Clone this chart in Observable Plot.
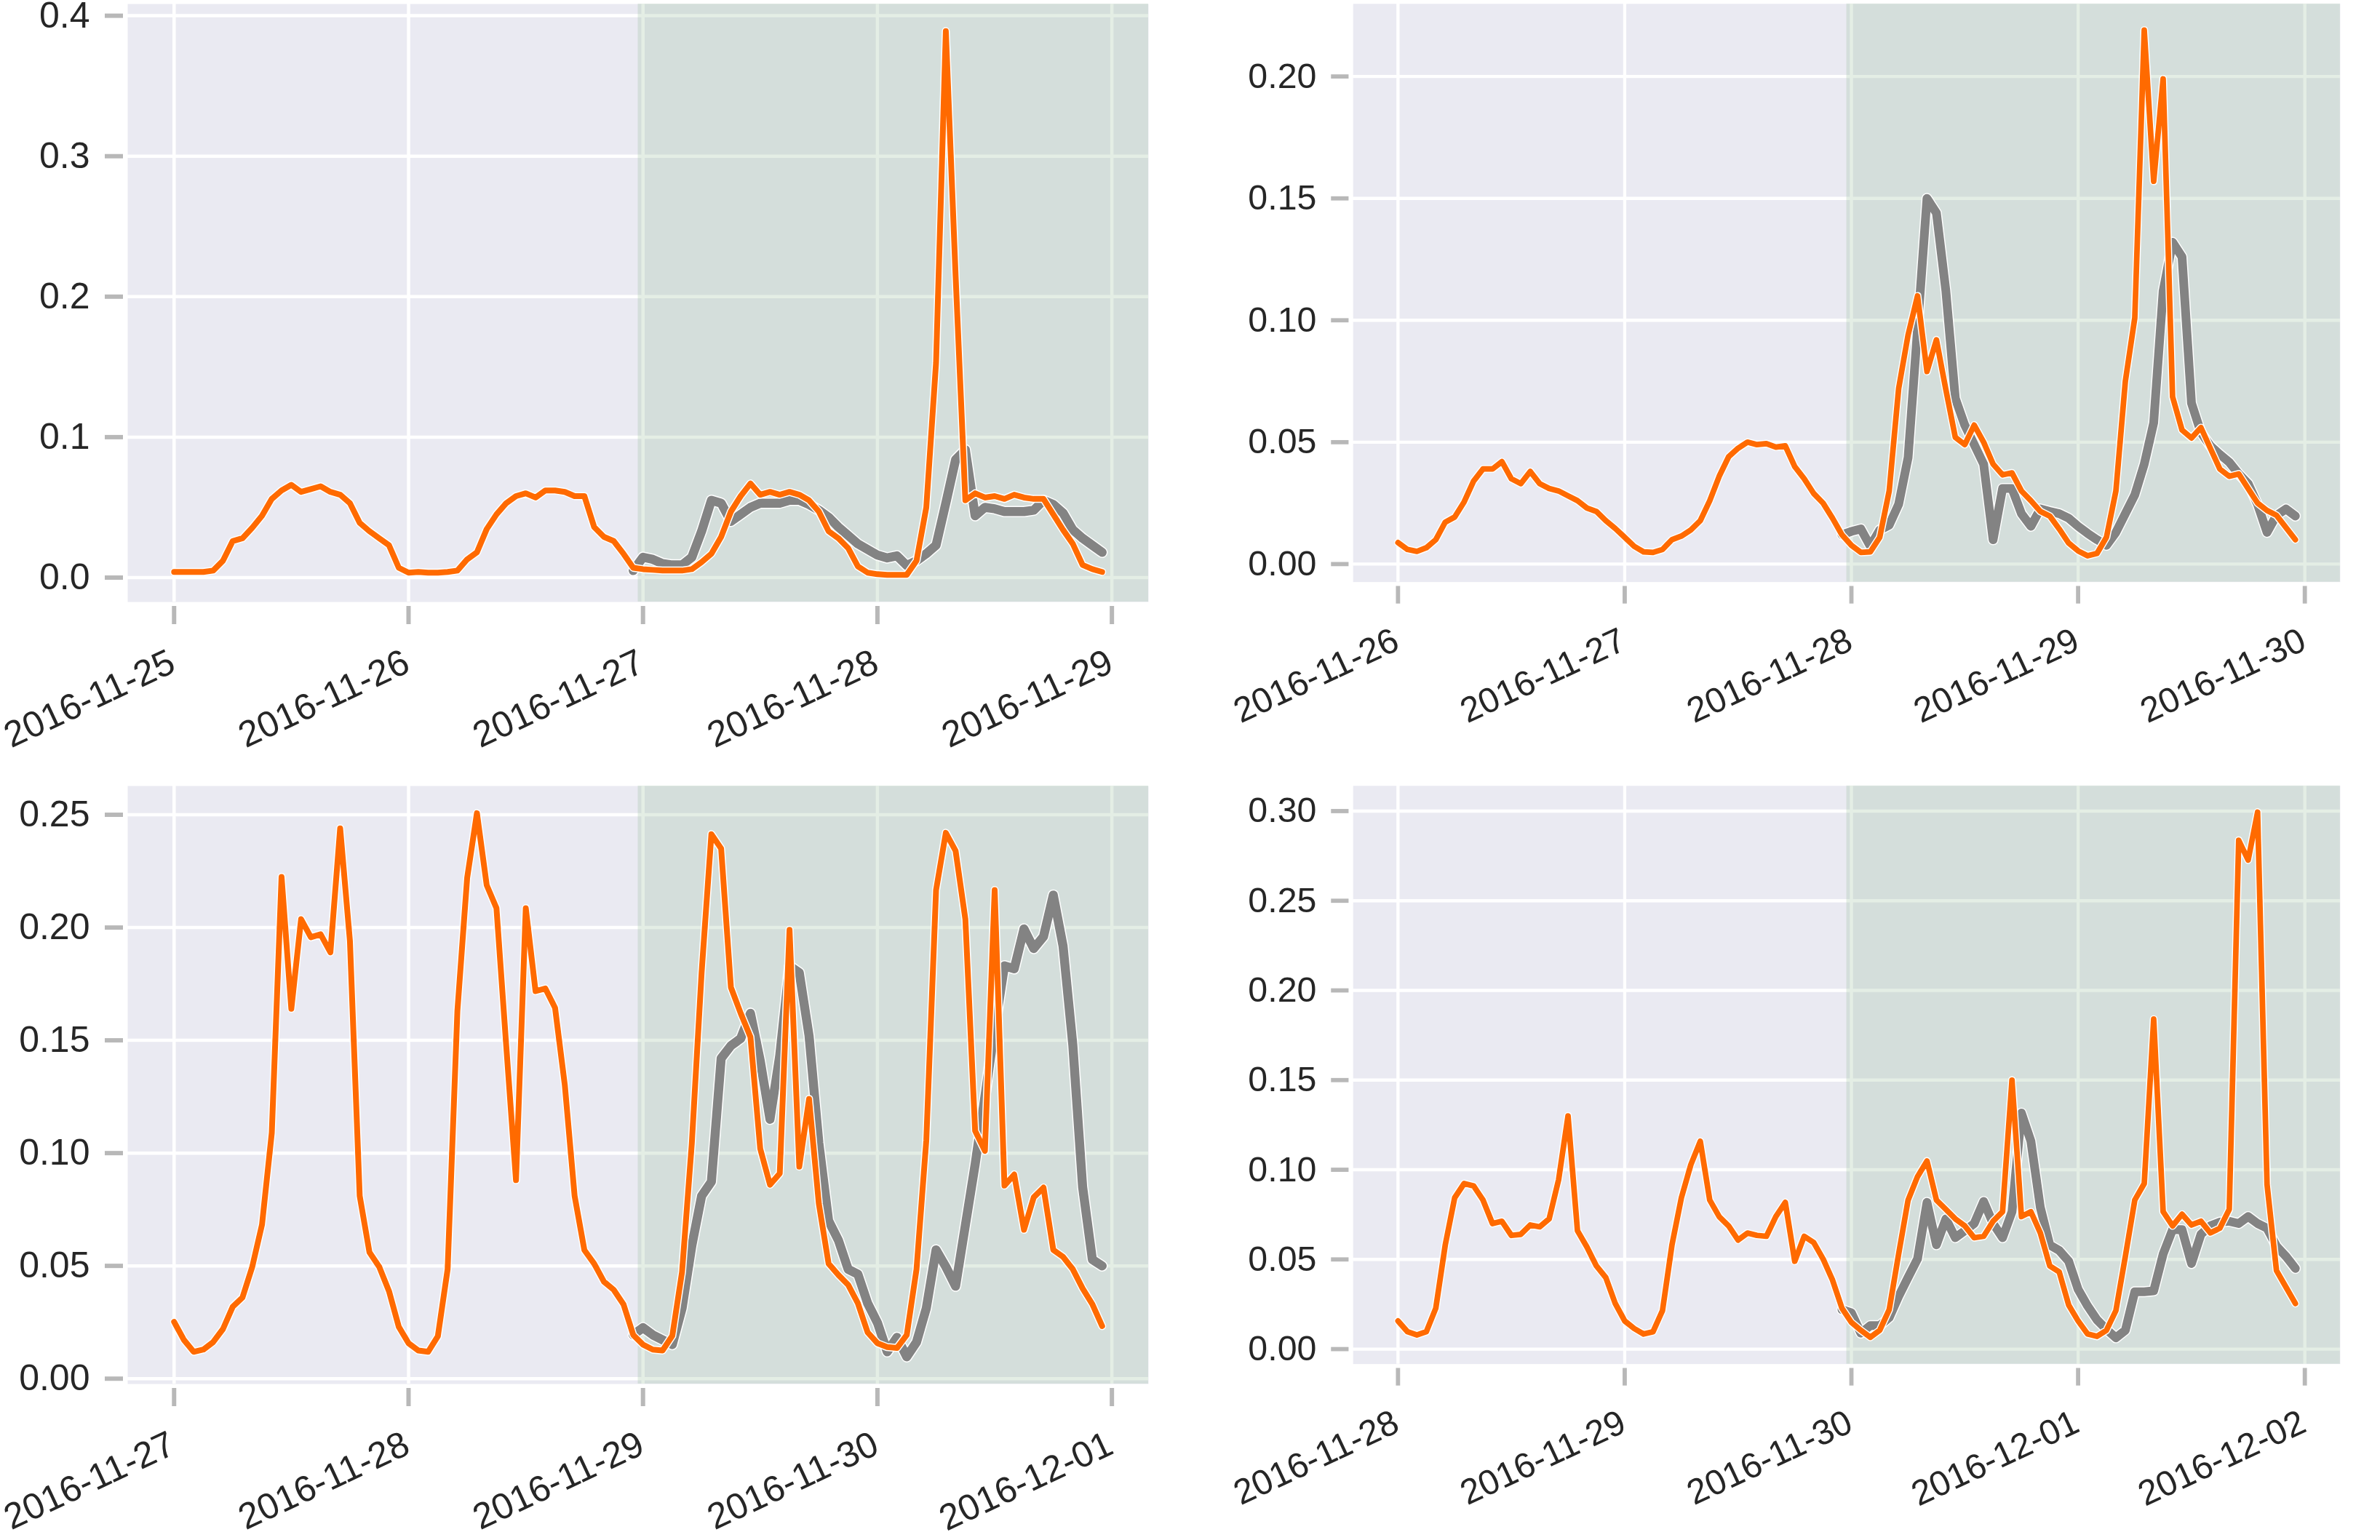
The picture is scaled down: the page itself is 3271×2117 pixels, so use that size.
<!DOCTYPE html>
<html><head><meta charset="utf-8">
<script src="https://cdn.jsdelivr.net/npm/d3@7"></script>
<script src="https://cdn.jsdelivr.net/npm/@observablehq/plot@0.6"></script>
<style>
html,body{margin:0;padding:0;background:#fff;}
#fig{position:relative;width:3271px;height:2117px;overflow:hidden;font-family:"Liberation Sans",Arial,sans-serif;}
.panel{position:absolute;}
.panel svg{overflow:visible;}
</style></head>
<body><div id="fig"></div>
<script>
// ---- data ----
const panelStarts = ["2016-11-25", "2016-11-26", "2016-11-27", "2016-11-28"];
const grayStartHour = 47;     // hour index where the grey (predicted) series starts
const shadeStartHour = 47.5;  // start of the shaded test window

const orange1 = [0.004,0.004,0.004,0.004,0.005,0.012,0.026,0.028,0.0355,0.044,0.056,0.062,0.066,0.061,0.063,0.065,0.061,0.059,0.053,0.039,0.033,0.028,0.023,0.007,
0.0035,0.004,0.0035,0.0035,0.004,0.005,0.013,0.018,0.0345,0.045,0.053,0.058,0.060,0.057,0.062,0.062,0.061,0.058,0.058,0.036,0.029,0.026,0.017,0.007,
0.006,0.0055,0.005,0.005,0.005,0.006,0.011,0.017,0.029,0.047,0.058,0.067,0.059,0.061,0.059,0.061,0.059,0.055,0.047,0.033,0.028,0.021,0.008,0.0035,
0.0024,0.002,0.002,0.002,0.012,0.050,0.153,0.389,0.215,0.055,0.060,0.057,0.058,0.056,0.059,0.057,0.056,0.056,0.045,0.034,0.024,0.009,0.006,0.004];
const gray1 = [0.005,0.0145,0.013,0.010,0.009,0.009,0.0145,0.033,0.055,0.053,0.040,0.045,0.050,0.053,0.053,0.053,0.055,0.055,0.052,0.048,0.043,0.036,0.030,0.024,0.020,
0.016,0.014,0.0155,0.0086,0.012,0.017,0.023,0.053,0.084,0.091,0.044,0.050,0.049,0.047,0.047,0.047,0.048,0.055,0.052,0.046,0.034,0.028,0.023,0.018];

const orange2 = [0.0088,0.006,0.0052,0.0067,0.010,0.0172,0.0193,0.0255,0.034,0.039,0.039,0.042,0.035,0.033,0.038,0.033,0.031,0.030,0.028,0.026,0.023,0.0216,0.0178,0.0146,
0.011,0.0073,0.005,0.0048,0.006,0.010,0.0115,0.014,0.0178,0.026,0.036,0.044,0.0475,0.050,0.049,0.0494,0.048,0.0485,0.040,0.035,0.029,0.025,0.0188,0.012,
0.0077,0.0048,0.005,0.011,0.030,0.072,0.094,0.110,0.079,0.092,0.0715,0.052,0.049,0.057,0.050,0.041,0.0366,0.0374,0.030,0.026,0.0216,0.0197,0.0144,0.0086,
0.0054,0.0034,0.0044,0.011,0.030,0.075,0.101,0.219,0.157,0.199,0.0686,0.055,0.0517,0.056,0.0475,0.039,0.036,0.037,0.031,0.025,0.022,0.020,0.015,0.010];
const gray2 = [0.012,0.0134,0.0144,0.0073,0.014,0.016,0.0245,0.0437,0.0964,0.150,0.144,0.112,0.068,0.057,0.049,0.041,0.010,0.031,0.031,0.0207,0.0155,0.0226,0.0216,0.0207,0.0188,
0.0155,0.0126,0.010,0.0077,0.013,0.0207,0.0284,0.041,0.058,0.112,0.132,0.126,0.066,0.054,0.0485,0.045,0.0418,0.037,0.033,0.0245,0.013,0.020,0.0226,0.0197];

const orange3 = [0.0252,0.0172,0.0119,0.0129,0.0162,0.022,0.0319,0.036,0.0496,0.0683,0.109,0.2224,0.164,0.2037,0.1957,0.197,0.189,0.244,0.194,0.081,0.056,0.0496,0.0388,0.023,
0.0157,0.0125,0.0119,0.0188,0.0485,0.163,0.222,0.2507,0.2188,0.2086,0.1476,0.088,0.2086,0.1718,0.173,0.1644,0.130,0.081,0.057,0.051,0.043,0.0394,0.033,0.0194,
0.0151,0.0129,0.0125,0.019,0.0474,0.1045,0.180,0.2414,0.235,0.1735,0.162,0.1515,0.102,0.086,0.091,0.199,0.094,0.124,0.0776,0.051,0.046,0.0416,0.0334,0.0205,
0.0157,0.014,0.0136,0.0194,0.0485,0.1056,0.2166,0.242,0.234,0.2037,0.1099,0.101,0.2166,0.0856,0.0905,0.066,0.0804,0.0847,0.0571,0.054,0.0485,0.040,0.033,0.0233];
const gray3 = [0.0194,0.0226,0.0194,0.0172,0.0151,0.0312,0.059,0.081,0.0873,0.142,0.1476,0.1508,0.162,0.141,0.115,0.1433,0.183,0.180,0.152,0.1045,0.070,0.0614,0.0485,0.0463,0.0334,
0.0248,0.0119,0.0183,0.0097,0.0162,0.0312,0.0571,0.0496,0.041,0.068,0.095,0.125,0.155,0.183,0.1817,0.1994,0.1907,0.196,0.2144,0.1918,0.148,0.0851,0.0528,0.050];

const orange4 = [0.0157,0.0097,0.0079,0.0097,0.0228,0.058,0.0844,0.0923,0.091,0.0831,0.070,0.0713,0.0634,0.064,0.0692,0.0682,0.0726,0.0944,0.130,0.066,0.0569,0.0464,0.0399,0.0254,
0.0157,0.0115,0.0084,0.0097,0.0215,0.058,0.0844,0.1028,0.1159,0.0831,0.0739,0.0687,0.0608,0.0647,0.0634,0.0629,0.0739,0.0818,0.049,0.0629,0.0595,0.0503,0.0385,0.0228,
0.0149,0.0105,0.0066,0.0105,0.022,0.053,0.0831,0.0962,0.1049,0.0831,0.0779,0.0726,0.0687,0.0621,0.0629,0.0713,0.0766,0.150,0.0739,0.0766,0.0648,0.0464,0.043,0.0246,
0.0157,0.0084,0.0071,0.0105,0.0215,0.0517,0.0831,0.0923,0.184,0.0766,0.0687,0.0752,0.0692,0.0713,0.0648,0.0674,0.0779,0.2837,0.2727,0.2994,0.0918,0.0438,0.0346,0.0254];
const gray4 = [0.022,0.0202,0.0089,0.0131,0.0131,0.0176,0.0294,0.040,0.0503,0.0818,0.0582,0.0726,0.0621,0.066,0.070,0.0823,0.070,0.0621,0.0766,0.1316,0.116,0.079,0.058,0.055,0.049,
0.0333,0.0241,0.0163,0.011,0.0063,0.0105,0.032,0.032,0.0325,0.053,0.0666,0.0666,0.0477,0.064,0.0687,0.0708,0.0713,0.070,0.0739,0.070,0.0674,0.0574,0.0517,0.045];

const yTicks1 = [0, 0.1, 0.2, 0.3, 0.4];
const yTicks2 = [0, 0.05, 0.10, 0.15, 0.20];
const yTicks3 = [0, 0.05, 0.10, 0.15, 0.20, 0.25];
const yTicks4 = [0, 0.05, 0.10, 0.15, 0.20, 0.25, 0.30];
const yFormats = [".1f", ".2f", ".2f", ".2f"];

// ---- drawing ----
const H = 3600e3;
const FONT = '"Liberation Sans", Arial, sans-serif';
function panel(start, orange, gray, yTicks, yFmt) {
  const t0 = new Date(start + "T00:00:00Z").getTime();
  const oData = orange.map((v, i) => ({t: new Date(t0 + i * H), v}));
  const gData = gray.map((v, i) => ({t: new Date(t0 + (grayStartHour + i) * H), v}));
  const all = orange.concat(gray);
  const ymin = d3.min(all), ymax = d3.max(all), yr = ymax - ymin;
  const xmin = t0, xmax = t0 + (orange.length - 1) * H, xr = xmax - xmin;
  const xDomain = [new Date(xmin - 0.05 * xr), new Date(xmax + 0.05 * xr)];
  const days = d3.range(5).map(d => new Date(t0 + d * 24 * H));
  const lineOpts = {x: "t", y: "v", strokeLinejoin: "round", strokeLinecap: "round"};
  return Plot.plot({
    width: 1635, height: 1042,
    marginLeft: 175, marginRight: 57, marginTop: 5, marginBottom: 215,
    style: {fontFamily: FONT, fontSize: "50px", color: "#262626", background: "transparent", overflow: "visible"},
    x: {type: "utc", domain: xDomain, label: null},
    y: {domain: [ymin - 0.05 * yr, ymax + 0.05 * yr], label: null},
    marks: [
      Plot.frame({fill: "#eaeaf2", stroke: "none"}),
      Plot.gridX(days, {stroke: "#ffffff", strokeOpacity: 1, strokeWidth: 4.5}),
      Plot.gridY(yTicks, {stroke: "#ffffff", strokeOpacity: 1, strokeWidth: 4.5}),
      Plot.rect([{x1: new Date(t0 + shadeStartHour * H), x2: xDomain[1]}],
        {x1: "x1", x2: "x2", fill: "#9cc1a0", fillOpacity: 0.27}),
      Plot.line(gData, {...lineOpts, stroke: "#ffffff", strokeWidth: 15.5}),
      Plot.line(gData, {...lineOpts, stroke: "#838383", strokeWidth: 12.5}),
      Plot.line(oData, {...lineOpts, stroke: "#ffffff", strokeWidth: 11}),
      Plot.line(oData, {...lineOpts, stroke: "#ff6a00", strokeWidth: 8}),
      Plot.axisX(days, {tickSize: 25, dy: 6, stroke: "#b8b8b8", strokeWidth: 6, fill: "none", tickFormat: () => "", label: null}),
      Plot.axisX(days, {tickSize: 0, tickPadding: 80, tickRotate: -25, dx: -2, label: null,
        textAnchor: "end", lineAnchor: "middle",
        tickFormat: d3.utcFormat("%Y-%m-%d"), fill: "#262626", fontSize: 50}),
      Plot.axisY(yTicks, {tickSize: 25, dx: -6, stroke: "#b8b8b8", strokeWidth: 6, fill: "none", tickFormat: () => "", label: null}),
      Plot.axisY(yTicks, {tickSize: 0, tickPadding: 52, tickFormat: d3.format(yFmt), fill: "#262626", fontSize: 50, label: null})
    ]
  });
}

const fig = document.getElementById("fig");
const series = [[orange1, gray1, yTicks1], [orange2, gray2, yTicks2], [orange3, gray3, yTicks3], [orange4, gray4, yTicks4]];
const positions = [[0, 0], [1690, 0], [0, 1075], [1690, 1075]];
series.forEach(([o, g, yt], i) => {
  const div = document.createElement("div");
  div.className = "panel";
  div.style.left = positions[i][0] + "px";
  div.style.top = positions[i][1] + "px";
  div.appendChild(panel(panelStarts[i], o, g, yt, yFormats[i]));
  fig.appendChild(div);
});
</script>
</body></html>
